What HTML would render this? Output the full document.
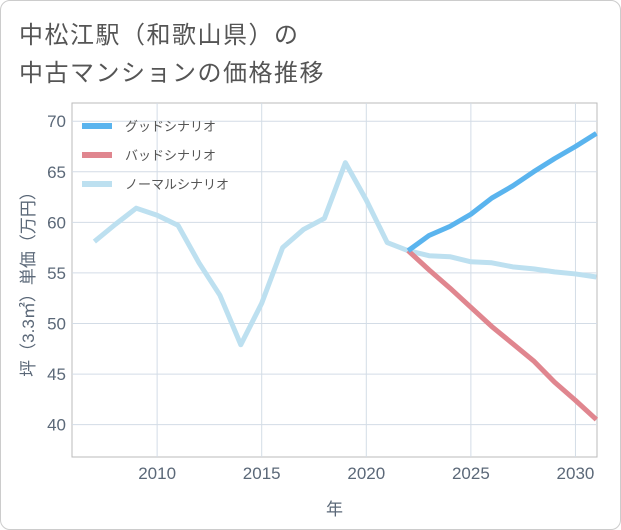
<!DOCTYPE html>
<html><head><meta charset="utf-8"><style>
body{margin:0;background:#fff;font-family:"Liberation Sans","Noto Sans CJK JP",sans-serif;}
#wrap{position:relative;width:619px;height:528px;border:1px solid #ccc;border-radius:10px;overflow:hidden;background:#fff}
.t{position:absolute;left:18px;font-size:24px;letter-spacing:1.5px;color:#555}
</style></head><body>
<div id="wrap">
<div class="t" style="top:14px">中松江駅（和歌山県）の</div>
<div class="t" style="top:52px">中古マンションの価格推移</div>
<svg id="c" width="621" height="530" style="position:absolute;left:-1px;top:-1px"></svg>
</div>
<script>
const years=[2007,2008,2009,2010,2011,2012,2013,2014,2015,2016,2017,2018,2019,2020,2021,2022,2023,2024,2025,2026,2027,2028,2029,2030,2031];
const normal=[58.1,59.8,61.4,60.7,59.7,56,52.8,47.9,52,57.5,59.3,60.4,65.9,62.2,58,57.2,56.7,56.6,56.1,56,55.6,55.4,55.1,54.9,54.6];
const fYears=[2022,2023,2024,2025,2026,2027,2028,2029,2030,2031];
const good=[57.2,58.7,59.6,60.8,62.4,63.6,65,66.3,67.5,68.8];
const bad=[57.2,55.3,53.5,51.6,49.7,48,46.3,44.2,42.4,40.5];
const xTicks=[2010,2015,2020,2025,2030];
const yTicks=[40,45,50,55,60,65,70];
const L=72,R=597,T=103,B=457;
const x=v=>L+(v-2005.93)/(2031.03-2005.93)*(R-L);
const y=v=>B-(v-36.8)/(71.8-36.8)*(B-T);
const svg=document.getElementById('c');const NS='http://www.w3.org/2000/svg';
const TC='#5b6878';
function mk(t,a,p){const e=document.createElementNS(NS,t);for(const k in a)e.setAttribute(k,a[k]);(p||svg).appendChild(e);return e;}
const frame=mk('rect',{x:L,y:T,width:R-L,height:B-T,fill:'#fff',stroke:'#bbb'});


xTicks.forEach(v=>{const g=mk('line',{x1:x(v),x2:x(v),y1:T,y2:B,stroke:'#d3dce6'});


const t=mk('text',{x:x(v),y:B+22,'text-anchor':'middle','font-size':17,fill:TC});t.textContent=v;

});
yTicks.forEach(v=>{const g=mk('line',{x1:L,x2:R,y1:y(v),y2:y(v),stroke:'#d3dce6'});


const t=mk('text',{x:L-6,y:y(v)+6,'text-anchor':'end','font-size':17,fill:TC});t.textContent=v;

});
const xt=mk('text',{x:(L+R)/2,y:515,'text-anchor':'middle','font-size':17,fill:TC});xt.textContent='年';


const yt=mk('text',{x:0,y:0,'text-anchor':'middle','font-size':17,fill:TC,transform:'translate(34,'+((T+B)/2)+') rotate(-90)'});yt.textContent='坪（3.3㎡）単価（万円）';


function line(xs,vs,col,name){const p=mk('polyline',{points:xs.map((v,i)=>x(v)+','+y(vs[i])).join(' '),fill:'none',stroke:col,'stroke-width':5,'stroke-linejoin':'round'});

}
line(years,normal,'#bde0f0','normal-scenario-line');
line(fYears,bad,'#e0868f','bad-scenario-line');
line(fYears,good,'#5ab4ee','good-scenario-line');
[['グッドシナリオ','#5ab4ee'],['バッドシナリオ','#e0868f'],['ノーマルシナリオ','#bde0f0']].forEach((d,i)=>{const yy=126+i*29;
const s=mk('line',{x1:82,x2:112,y1:yy,y2:yy,stroke:d[1],'stroke-width':6});


const t=mk('text',{x:125,y:yy+5,'font-size':13,fill:'#555'});t.textContent=d[0];

});
</script>
</body></html>
